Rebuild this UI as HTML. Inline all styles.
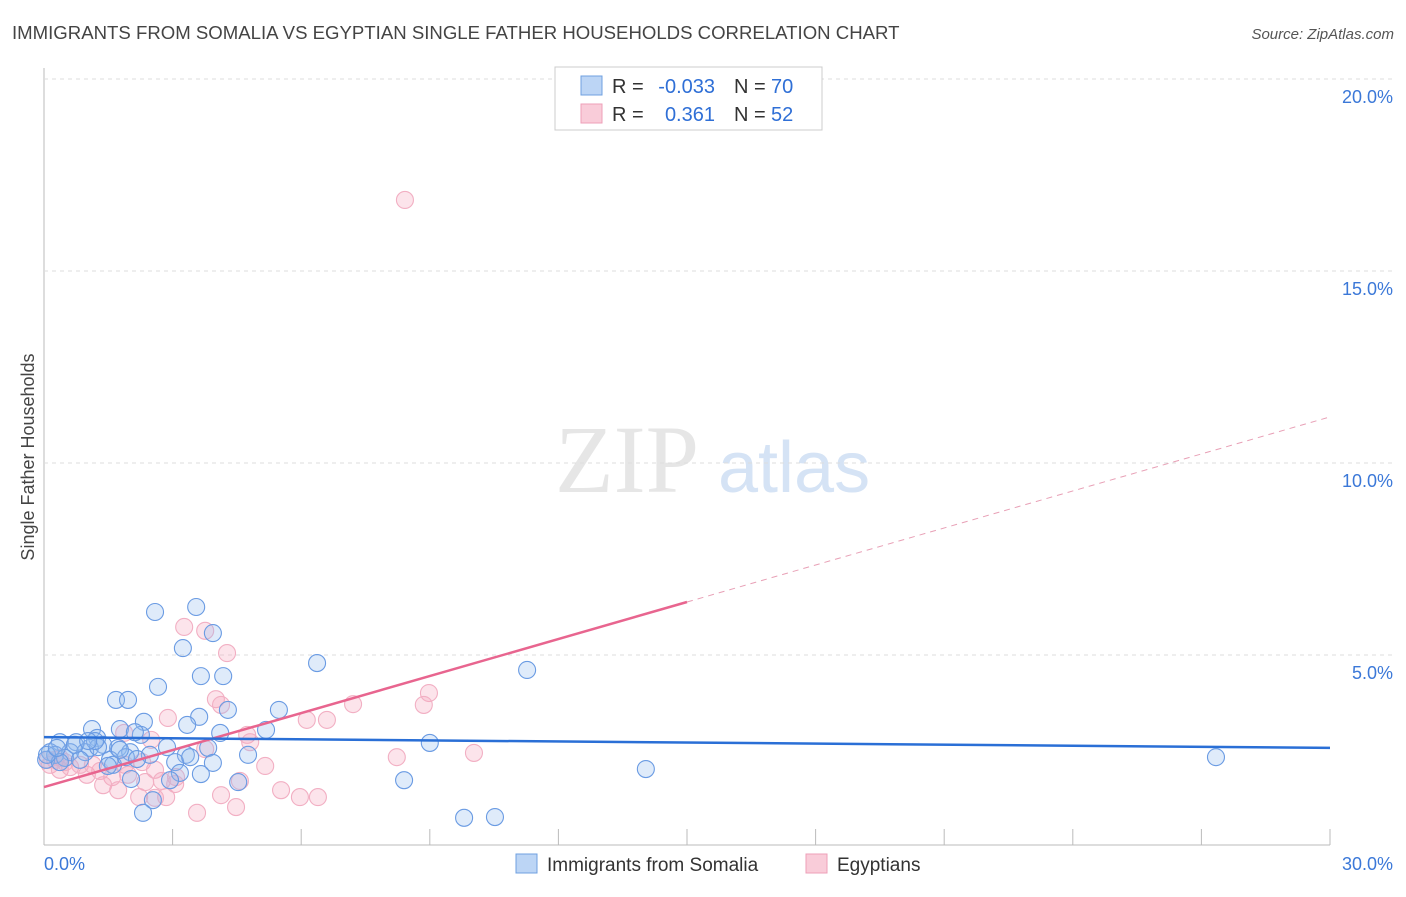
<!DOCTYPE html>
<html><head><meta charset="utf-8"><style>
body{margin:0;background:#fff;font-family:"Liberation Sans",sans-serif;}
</style></head><body>
<svg width="1406" height="892" xmlns="http://www.w3.org/2000/svg" style="font-family:'Liberation Sans',sans-serif">
<text x="12" y="39" font-size="18.6" fill="#444">IMMIGRANTS FROM SOMALIA VS EGYPTIAN SINGLE FATHER HOUSEHOLDS CORRELATION CHART</text>
<text x="1394" y="39" font-size="15" fill="#555" font-style="italic" text-anchor="end">Source: ZipAtlas.com</text>
<text transform="translate(34,457) rotate(-90)" font-size="18" fill="#444" text-anchor="middle">Single Father Households</text>
<text x="555" y="492" font-size="96" fill="#e6e6e6" font-family="Liberation Serif,serif">ZIP</text>
<text x="718" y="492" font-size="72" fill="#d5e3f5">atlas</text>
<g id="grid"></g>
<g id="marks"></g>
<g>
<rect x="555" y="67" width="267" height="63" fill="#fff" stroke="#ccc"/>
<rect x="581" y="76" width="21" height="19" fill="#bcd5f5" stroke="#6fa0e0"/>
<rect x="581" y="104" width="21" height="19" fill="#f9ccd9" stroke="#ee9fb8"/>
<text x="612" y="93" font-size="20" fill="#333">R =</text>
<text x="715" y="93" font-size="20" fill="#2f6fd6" text-anchor="end">-0.033</text>
<text x="734" y="93" font-size="20" fill="#333">N =</text>
<text x="771" y="93" font-size="20" fill="#2f6fd6">70</text>
<text x="612" y="121" font-size="20" fill="#333">R =</text>
<text x="715" y="121" font-size="20" fill="#2f6fd6" text-anchor="end">0.361</text>
<text x="734" y="121" font-size="20" fill="#333">N =</text>
<text x="771" y="121" font-size="20" fill="#2f6fd6">52</text>
</g>
<g>
<rect x="516" y="854" width="21" height="19" fill="#bcd5f5" stroke="#6fa0e0"/>
<text x="547" y="871" font-size="19" fill="#333">Immigrants from Somalia</text>
<rect x="806" y="854" width="21" height="19" fill="#f9ccd9" stroke="#ee9fb8"/>
<text x="837" y="871" font-size="19" fill="#333">Egyptians</text>
</g>
</svg>
<script>
const xTicks=[0,3,6,9,12,15,18,21,24,27,30];
const yTicks=[5,10,15,20];
const yTickLabels=["5.0%","10.0%","15.0%","20.0%"];
const xTickLabels=["0.0%","30.0%"];
const somaliaX=[2.59,3.55,3.24,3.94,2.66,3.66,4.18,1.68,1.96,6.37,11.27,5.48,4.29,3.62,3.34,2.33,1.77,5.18,4.11,2.26,1.12,0.37,0.75,1.24,1.38,1.73,2.87,3.83,4.76,3.31,1.07,0.14,0.26,0.61,0.96,2.01,2.47,1.54,3.06,3.41,1.61,3.94,9.00,27.34,14.04,3.66,3.17,4.53,2.03,8.40,2.54,2.31,9.80,10.52,0.05,0.49,1.26,1.91,1.49,0.84,0.37,2.94,0.07,0.72,2.12,1.19,0.30,1.03,2.17,1.77];
const somaliaY=[6.12,6.25,5.18,5.57,4.17,4.45,4.45,3.83,3.83,4.79,4.61,3.57,3.57,3.39,3.18,3.26,3.07,3.05,2.97,2.92,3.07,2.73,2.73,2.84,2.66,2.58,2.60,2.58,2.40,2.40,2.58,2.47,2.40,2.47,2.47,2.47,2.40,2.27,2.21,2.34,2.14,2.19,2.71,2.34,2.03,1.90,1.93,1.69,1.77,1.74,1.22,0.89,0.76,0.78,2.27,2.32,2.60,2.34,2.11,2.27,2.21,1.74,2.40,2.66,2.99,2.76,2.58,2.76,2.29,2.53];
const egyptX=[8.42,3.27,3.76,4.27,4.01,4.13,2.89,7.21,8.98,8.86,6.60,6.13,1.87,2.50,4.74,4.81,3.76,10.03,8.23,5.16,2.29,1.89,2.59,3.08,1.00,1.31,1.59,1.96,2.75,4.57,1.38,1.73,5.53,4.13,2.85,2.22,2.59,5.97,6.39,4.48,3.57,0.14,0.37,0.61,0.84,0.26,0.49,1.14,2.36,3.06,0.37,0.09];
const egyptY=[16.85,5.73,5.63,5.05,3.85,3.70,3.36,3.72,4.01,3.70,3.31,3.31,2.97,2.79,2.92,2.73,2.55,2.45,2.34,2.11,2.21,2.14,2.01,1.82,1.88,1.98,1.82,1.88,1.72,1.72,1.61,1.48,1.48,1.35,1.30,1.30,1.28,1.30,1.30,1.04,0.89,2.14,2.01,2.08,2.14,2.27,2.21,2.14,1.69,1.64,2.32,2.27];
const somaliaTrend=[2.86,2.58];
const egyptTrend=[1.56,11.2];
const egyptSolidEnd=15;

const X0=44,X1=1330,Y0=847,Y20=79;
const sx=v=>X0+(X1-X0)*v/30;
const sy=v=>Y0-(Y0-Y20)*v/20;
const NS="http://www.w3.org/2000/svg";
function mk(tag,attrs,parent){const e=document.createElementNS(NS,tag);for(const k in attrs)e.setAttribute(k,attrs[k]);parent.appendChild(e);return e;}
const grid=document.getElementById('grid'),marks=document.getElementById('marks');
let ax=mk('line',{x1:X0,y1:68,x2:X0,y2:845,stroke:'#bbb'},grid);


let bx=mk('line',{x1:X0,y1:845,x2:X1,y2:845,stroke:'#bbb'},grid);


yTicks.forEach((t,i)=>{
 const g=mk('line',{x1:X0,x2:1393,y1:sy(t),y2:sy(t),stroke:'#ddd','stroke-dasharray':'4,4'},grid);
 
 
 const l=mk('text',{x:1393,y:sy(t)+24,'font-size':18,fill:'#3b78d8','text-anchor':'end'},grid);
 l.textContent=yTickLabels[i];
 
 
});
xTicks.forEach(t=>{
 const m=mk('line',{x1:sx(t),x2:sx(t),y1:829,y2:845,stroke:'#bbb'},grid);
 
 
});
[[0,'start',44],[30,'end',1393]].forEach((p,i)=>{
 const l=mk('text',{x:p[2],y:870,'font-size':18,fill:'#3b78d8','text-anchor':p[1]},grid);
 l.textContent=xTickLabels[i];
 
 
});
for(let i=0;i<egyptX.length;i++){
 const c=mk('circle',{cx:sx(egyptX[i]),cy:sy(egyptY[i]),r:8.5,fill:'rgba(244,166,189,0.3)',stroke:'#f2afc3','stroke-width':1.1},marks);
 
 
}
for(let i=0;i<somaliaX.length;i++){
 const c=mk('circle',{cx:sx(somaliaX[i]),cy:sy(somaliaY[i]),r:8.5,fill:'rgba(150,190,240,0.3)',stroke:'#6a9be3','stroke-width':1.1},marks);
 
 
}
const eAt=x=>egyptTrend[0]+(egyptTrend[1]-egyptTrend[0])*x/30;
let t1=mk('line',{x1:sx(0),y1:sy(eAt(0)),x2:sx(egyptSolidEnd),y2:sy(eAt(egyptSolidEnd)),stroke:'#e8658f','stroke-width':2.5},marks);


let t2=mk('line',{x1:sx(egyptSolidEnd),y1:sy(eAt(egyptSolidEnd)),x2:sx(30),y2:sy(eAt(30)),stroke:'#e8a0b6','stroke-width':1,'stroke-dasharray':'6,5'},marks);


let t3=mk('line',{x1:sx(0),y1:sy(somaliaTrend[0]),x2:sx(30),y2:sy(somaliaTrend[1]),stroke:'#2a6fd6','stroke-width':2.5},marks);


</script>
</body></html>
